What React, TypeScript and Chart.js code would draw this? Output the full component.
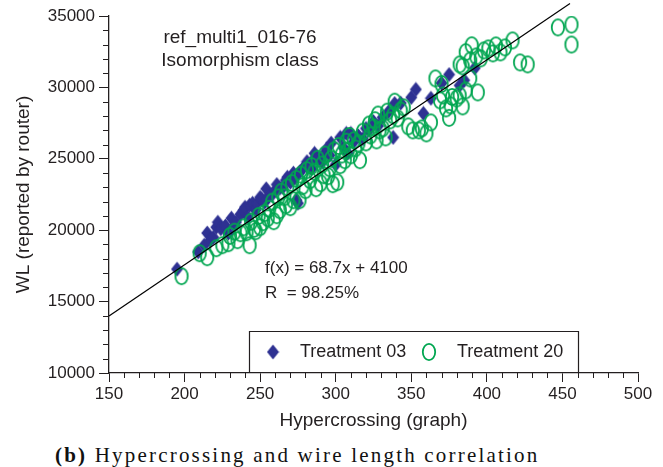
import React, { useEffect, useRef } from 'react';
import { Chart, registerables } from 'chart.js';

Chart.register(...registerables);

// ---- data ----
const treatment03: [number, number][] = [
  [195, 17270], [209, 18480], [213, 18950], [215, 19800], [217, 19300], [219, 19500], [221, 20210], [222, 20560],
  [224, 20100], [227, 20300], [229, 19800], [231, 20840], [233, 20300], [234, 20560], [237, 21120], [239, 21400],
  [240, 21610], [242, 20900], [243, 21750], [245, 21890], [247, 21400], [248, 21890], [250, 22300], [251, 22170],
  [253, 21960], [254, 22900], [256, 22450], [258, 22500], [260, 22800], [261, 23200], [263, 22940], [265, 23000],
  [267, 23500], [268, 23710], [270, 23360], [272, 24000], [273, 23640], [274, 22100], [275, 21890], [276, 24060],
  [278, 24300], [281, 24800], [284, 24300], [285, 24900], [286, 25380], [288, 25000], [291, 24760], [292, 25300],
  [294, 25700], [296, 25240], [297, 26100], [300, 24600], [303, 26500], [305, 25800], [307, 26780], [308, 25400],
  [310, 26780], [312, 26200], [315, 26600], [318, 26400], [320, 27130], [322, 27000], [325, 27600], [328, 27300],
  [331, 27900], [335, 28300], [338, 26500], [339, 28870], [343, 28900], [350, 29300], [353, 29860], [358, 28180],
  [363, 29240], [370, 30300], [375, 30900], [382, 30140], [385, 30500], [392, 31350],
];

const treatment20: [number, number][] = [
  [198, 16780], [210, 18390], [215, 18110], [221, 18740], [225, 18950], [229, 19090], [230, 19600], [233, 19900],
  [235, 19300], [237, 19790], [239, 20200], [241, 19860], [243, 18950], [244, 20600], [246, 20100], [247, 19930],
  [249, 21000], [250, 20210], [252, 20560], [253, 21200], [255, 20840], [256, 21500], [258, 22000], [259, 20630],
  [261, 21050], [262, 22300], [263, 21400], [264, 22700], [266, 22300], [267, 21750], [268, 23000], [270, 21610],
  [271, 23300], [272, 22100], [274, 23600], [276, 22100], [277, 23900], [278, 23080], [280, 22800], [281, 24200],
  [283, 23500], [284, 24500], [286, 24100], [287, 22940], [288, 25000], [290, 23290], [291, 24600], [292, 23850],
  [293, 25300], [295, 23780], [296, 24340], [297, 25000], [298, 23220], [299, 25600], [301, 23360], [302, 25900],
  [303, 24550], [304, 25300], [306, 24900], [307, 26200], [308, 25590], [309, 26600], [310, 25240], [312, 26300],
  [313, 25730], [315, 26080], [316, 24900], [318, 26900], [320, 26150], [322, 27400], [323, 26640], [325, 27200],
  [326, 27700], [327, 26290], [328, 28100], [329, 26990], [331, 27130], [333, 26500], [334, 28300], [336, 27690],
  [338, 28040], [339, 29000], [341, 27830], [343, 28390], [345, 28600], [348, 27270], [351, 26990], [355, 26990],
  [357, 27130], [360, 26780], [363, 27550], [366, 30630], [370, 30240], [369, 29090], [371, 29440], [373, 28530],
  [375, 27870], [376, 28740], [377, 29330], [380, 29220], [382, 29440], [382, 31610], [384, 28670], [384, 31470],
  [386, 29790], [386, 32470], [389, 30630], [389, 31890], [390, 32950], [393, 32170], [394, 29650], [396, 32030],
  [398, 32590], [401, 32730], [404, 32380], [406, 32940], [409, 32450], [412, 32800], [417, 33290], [422, 31750],
  [427, 31610], [447, 34200], [456, 34400], [456, 33000],
];

const fitLine: [number, number][] = [[150, 14000], [455, 35870]];

const xRange = [150, 500];
const xMajorStep = 50;
const xMinorStep = 10;
const yRange = [10000, 35000];
const yMajorStep = 5000;
const yMinorStep = 1000;

const plotTitle = ['ref_multi1_016-76', 'Isomorphism class'];
const fitText = ['f(x) = 68.7x + 4100', 'R  = 98.25%'];
const seriesNames = ['Treatment 03', 'Treatment 20'];
const xTitle = 'Hypercrossing (graph)';
const yTitle = 'WL (reported by router)';
const captionLabel = '(b)';
const captionText = 'Hypercrossing and wire length correlation';

// ---- styles ----
const BLUE = '#2e3192';
const GREEN = '#00a651';
const INK = '#231f20';
const SANS = '"Liberation Sans", Arial, Helvetica, sans-serif';

function makeDiamond(): HTMLCanvasElement {
  const c = document.createElement('canvas');
  c.width = 13;
  c.height = 16;
  const g = c.getContext('2d')!;
  g.fillStyle = BLUE;
  g.beginPath();
  g.moveTo(6.5, 0.5);
  g.lineTo(12.5, 8);
  g.lineTo(6.5, 15.5);
  g.lineTo(0.5, 8);
  g.closePath();
  g.fill();
  return c;
}

function makeRing(): HTMLCanvasElement {
  const c = document.createElement('canvas');
  c.width = 16;
  c.height = 20;
  const g = c.getContext('2d')!;
  g.strokeStyle = GREEN;
  g.lineWidth = 1.8;
  g.beginPath();
  g.ellipse(8, 10, 6.2, 8.2, 0, 0, Math.PI * 2);
  g.stroke();
  return c;
}

export default function App() {
  const ref = useRef<HTMLCanvasElement>(null);

  useEffect(() => {
    if (!ref.current) return;
    const diamond = makeDiamond();
    const ring = makeRing();

    const overlay = {
      id: 'overlay',
      afterDraw(chart: any) {
        const ctx = chart.ctx as CanvasRenderingContext2D;
        const xs = chart.scales.x;
        const ys = chart.scales.y;
        const area = chart.chartArea;
        ctx.save();
        // minor ticks
        ctx.strokeStyle = INK;
        ctx.lineWidth = 1;
        ctx.beginPath();
        for (let v = xRange[0]; v <= xRange[1]; v += xMinorStep) {
          if (v % xMajorStep === 0) continue;
          const px = Math.round(xs.getPixelForValue(v)) + 0.5;
          ctx.moveTo(px, area.bottom);
          ctx.lineTo(px, area.bottom + 5);
        }
        for (let v = yRange[0]; v <= yRange[1]; v += yMinorStep) {
          if (v % yMajorStep === 0) continue;
          const py = Math.round(ys.getPixelForValue(v)) + 0.5;
          ctx.moveTo(area.left, py);
          ctx.lineTo(area.left - 6, py);
        }
        ctx.stroke();

        // annotations
        ctx.fillStyle = INK;
        ctx.textBaseline = 'middle';
        ctx.textAlign = 'center';
        ctx.font = `19px ${SANS}`;
        ctx.fillText(plotTitle[0], 240, 38);
        ctx.fillText(plotTitle[1], 240, 61);
        ctx.textAlign = 'left';
        ctx.font = `17px ${SANS}`;
        ctx.fillText(fitText[0], 265, 268);
        ctx.fillText(fitText[1], 265, 293);

        // legend box
        const lx0 = 249.5, lx1 = 578.5, ly0 = 331.5, ly1 = area.bottom;
        ctx.strokeStyle = INK;
        ctx.lineWidth = 1.2;
        ctx.beginPath();
        ctx.moveTo(lx0, ly1);
        ctx.lineTo(lx0, ly0);
        ctx.lineTo(lx1, ly0);
        ctx.lineTo(lx1, ly1);
        ctx.stroke();
        ctx.drawImage(diamond, 273 - 6.5, 352 - 8);
        ctx.drawImage(ring, 429 - 8, 352 - 10);
        ctx.fillStyle = INK;
        ctx.font = `18px ${SANS}`;
        ctx.fillText(seriesNames[0], 300, 352);
        ctx.fillText(seriesNames[1], 457, 352);
        ctx.restore();
      },
    };

    const chart = new Chart(ref.current, {
      type: 'scatter',
      data: {
        datasets: [
          {
            label: 'fit',
            data: fitLine.map(([x, y]) => ({ x, y })),
            showLine: true,
            borderColor: '#000000',
            borderWidth: 1.2,
            pointRadius: 0,
            clip: false as any,
          },
          {
            label: seriesNames[1],
            data: treatment20.map(([x, y]) => ({ x, y })),
            pointStyle: ring as any,
            pointRadius: 8,
          },
          {
            label: seriesNames[0],
            data: treatment03.map(([x, y]) => ({ x, y })),
            pointStyle: diamond as any,
            pointRadius: 7,
          },
        ],
      },
      options: {
        responsive: false,
        animation: false,
        layout: { padding: { top: 16, right: 25, left: 0, bottom: 0 } },
        plugins: { legend: { display: false }, tooltip: { enabled: false } },
        scales: {
          x: {
            type: 'linear',
            min: xRange[0],
            max: xRange[1],
            ticks: {
              stepSize: xMajorStep,
              color: INK,
              font: { family: SANS, size: 17 },
              padding: 2,
              maxRotation: 0,
              autoSkip: false,
              callback: (v: any) => String(v),
            },
            grid: { drawOnChartArea: false, drawTicks: true, tickLength: 9, color: INK, lineWidth: 1 },
            border: { display: true, color: INK, width: 1.3 },
            title: {
              display: true,
              text: xTitle,
              color: INK,
              font: { family: SANS, size: 19 },
              padding: { top: 0, bottom: 0 },
            },
            afterFit: (s: any) => {
              s.height = 59;
            },
          },
          y: {
            type: 'linear',
            min: yRange[0],
            max: yRange[1],
            ticks: {
              stepSize: yMajorStep,
              color: INK,
              font: { family: SANS, size: 17 },
              padding: 4,
              callback: (v: any) => String(v),
            },
            grid: { drawOnChartArea: false, drawTicks: true, tickLength: 10, color: INK, lineWidth: 1 },
            border: { display: true, color: INK, width: 1.3 },
            title: {
              display: true,
              text: yTitle,
              color: INK,
              font: { family: SANS, size: 19 },
              padding: { top: 12, bottom: 0 },
            },
            afterFit: (s: any) => {
              s.width = 109;
            },
          },
        },
      },
      plugins: [overlay],
    } as any);

    return () => chart.destroy();
  }, []);

  return (
    <div style={{ position: 'absolute', left: 0, top: 0, width: 663, height: 467, background: '#fff' }}>
      <canvas ref={ref} width={663} height={432} style={{ display: 'block' }} />
      <div
        style={{
          position: 'absolute',
          left: 55,
          top: 442,
          fontFamily: '"Liberation Serif", "DejaVu Serif", serif',
          fontSize: 21,
          letterSpacing: 2.2,
          color: '#111',
          whiteSpace: 'nowrap',
          lineHeight: '26px',
        }}
      >
        <b>{captionLabel}</b> {captionText}
      </div>
    </div>
  );
}
